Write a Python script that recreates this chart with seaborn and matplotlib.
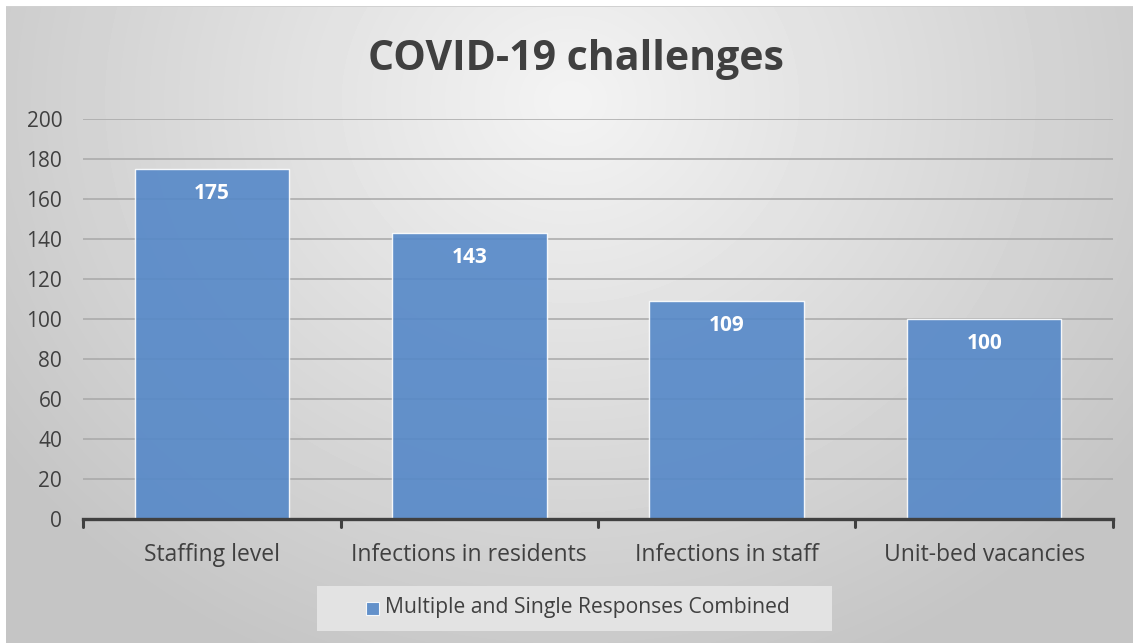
import matplotlib
matplotlib.use('Agg')
import matplotlib.pyplot as plt
import seaborn as sns
import numpy as np
from matplotlib.patches import Rectangle

categories = ['Staffing level', 'Infections in residents', 'Infections in staff', 'Unit-bed vacancies']
values = [175, 143, 109, 100]
yticks = [0, 20, 40, 60, 80, 100, 120, 140, 160, 180, 200]
series_name = 'Multiple and Single Responses Combined'
title = 'COVID-19 challenges'

bar_color = '#5588c8'
text_color = '#404040'

sns.set_style('white')
plt.rcParams['font.family'] = ['Open Sans', 'DejaVu Sans']

fig = plt.figure(figsize=(11.33, 6.43), dpi=100)

# gradient background (radial, light at top centre)
bg = fig.add_axes([0, 0, 1, 1], zorder=-10)
W, H = 1133, 643
xx, yy = np.meshgrid(np.arange(W), np.arange(H))
d = np.sqrt(((xx - 570) / 700.0) ** 2 + ((yy - 100) / 620.0) ** 2)
d = np.clip(d, 0, 1)
img = 0.955 - 0.185 * d
img[:, :6] = 1.0
img[:6, :] = 1.0
img[6, 6:] = 0.82
bg.imshow(img, cmap='gray', vmin=0, vmax=1, aspect='auto', interpolation='bilinear')
bg.axis('off')

ax = fig.add_axes([0.0733, 0.193, 0.909, 0.622])
ax.patch.set_alpha(0)

for t in yticks[1:]:
    ax.axhline(t, color='#a8a8a8', lw=1.1, zorder=0)

sns.barplot(x=categories, y=values, color=bar_color, saturation=1, width=0.6,
            alpha=0.9, edgecolor='white', linewidth=1, ax=ax, zorder=2)

for i, v in enumerate(values):
    ax.text(i, v - 12.5, str(v), ha='center', va='center', color='white',
            fontsize=15, fontweight='bold', zorder=3)

ax.set_ylim(0, 200)
ax.set_xlim(-0.5, len(categories) - 0.5)
ax.set_yticks(yticks)
ax.tick_params(axis='y', length=0, labelsize=15, labelcolor=text_color, pad=15)
ax.set_xticks(range(len(categories)))
ax.set_xticklabels(categories)
ax.tick_params(axis='x', length=0, labelsize=16.5, labelcolor=text_color, pad=17)
for b in np.arange(-0.5, len(categories), 1.0):
    ax.plot([b, b], [0, -4], color='#404040', lw=2.2, clip_on=False, zorder=4)
for s in ['top', 'right', 'left']:
    ax.spines[s].set_visible(False)
ax.spines['bottom'].set_color('#404040')
ax.spines['bottom'].set_linewidth(2.4)
ax.set_xlabel('')
ax.set_ylabel('')

fig.text(0.508, 0.907, title, ha='center', va='center', fontsize=29.5,
         fontweight='bold', color=text_color)

# legend box
fig.patches.append(Rectangle((317 / W, 1 - 631 / H), 515 / W, 45 / H,
                             transform=fig.transFigure, facecolor='#e3e3e3',
                             edgecolor='none', zorder=0))
fig.patches.append(Rectangle((366 / W, 1 - 615 / H), 13 / W, 13 / H,
                             transform=fig.transFigure, facecolor=bar_color,
                             alpha=0.9, edgecolor='white', lw=0.8, zorder=1))
fig.text(385 / W, 1 - 608 / H, series_name, ha='left', va='center',
         fontsize=15.2, color=text_color)

fig.savefig('out.png', dpi=100)
